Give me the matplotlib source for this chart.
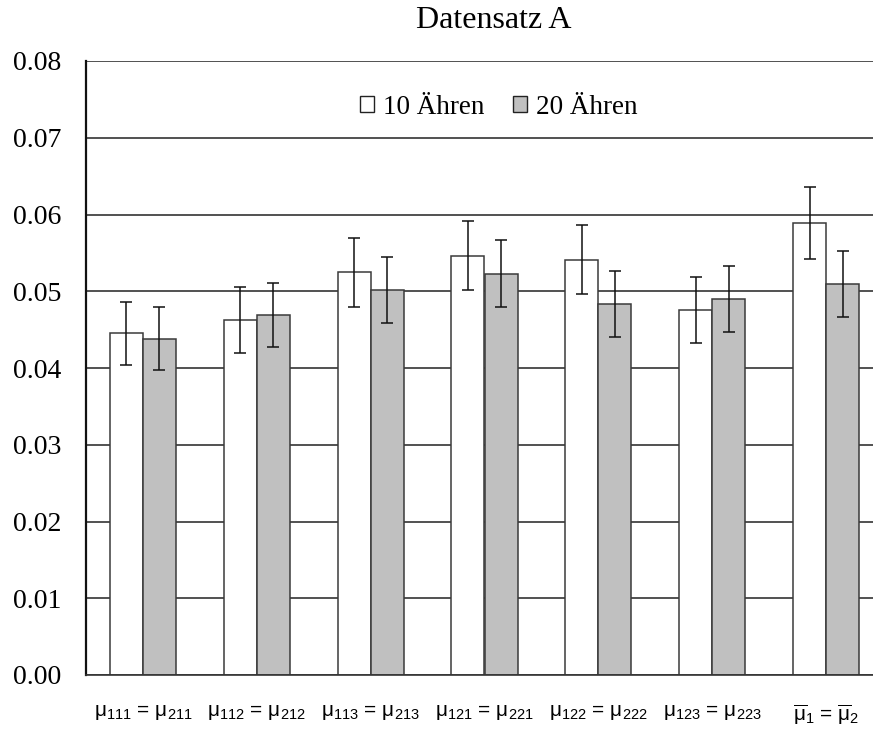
import matplotlib
matplotlib.use("Agg")
import matplotlib.pyplot as plt
import numpy as np
from matplotlib.patches import Patch

# Data
categories = [
    r"$\mathrm{μ_{111}}$ = $\mathrm{μ_{211}}$",
    r"$\mathrm{μ_{112}}$ = $\mathrm{μ_{212}}$",
    r"$\mathrm{μ_{113}}$ = $\mathrm{μ_{213}}$",
    r"$\mathrm{μ_{121}}$ = $\mathrm{μ_{221}}$",
    r"$\mathrm{μ_{122}}$ = $\mathrm{μ_{222}}$",
    r"$\mathrm{μ_{123}}$ = $\mathrm{μ_{223}}$",
    r"$\mathrm{\overline{μ}_{1}}$ = $\mathrm{\overline{μ}_{2}}$",
]
series_names = ["10 Ähren", "20 Ähren"]
values_10 = [0.0445, 0.0462, 0.0525, 0.0546, 0.0541, 0.0476, 0.0589]
values_20 = [0.0438, 0.0469, 0.0502, 0.0523, 0.0483, 0.0490, 0.0509]
err_10 = [0.0041, 0.0043, 0.0045, 0.0045, 0.0045, 0.0043, 0.0047]
err_20 = [0.0041, 0.0042, 0.0043, 0.0044, 0.0043, 0.0043, 0.0043]
yticks = [0.00, 0.01, 0.02, 0.03, 0.04, 0.05, 0.06, 0.07, 0.08]
title = "Datensatz A"

plt.rcParams["mathtext.fontset"] = "custom"
plt.rcParams["mathtext.rm"] = "Liberation Sans"
plt.rcParams["mathtext.it"] = "Liberation Sans:italic"
plt.rcParams["mathtext.bf"] = "Liberation Sans:bold"

W, H = 873, 729
fig = plt.figure(figsize=(W / 100, H / 100), dpi=100)
ax = fig.add_axes([86 / W, (H - 675) / H, (883 - 86) / W, (675 - 61) / H])

x = np.arange(len(categories))
bw = 0.29
edge = "#3a3a3a"
ax.bar(x - bw / 2, values_10, bw, color="white", edgecolor=edge, linewidth=1.1, zorder=3)
ax.bar(x + bw / 2, values_20, bw, color="#c0c0c0", edgecolor=edge, linewidth=1.1, zorder=3)
ax.errorbar(x - bw / 2, values_10, yerr=err_10, fmt="none", ecolor="#111111",
            elinewidth=1.1, capsize=4.5, capthick=1.1, zorder=4)
ax.errorbar(x + bw / 2, values_20, yerr=err_20, fmt="none", ecolor="#111111",
            elinewidth=1.1, capsize=4.5, capthick=1.1, zorder=4)

ax.set_xlim(-0.5, len(categories) - 0.5)
ax.set_ylim(0, 0.08)
ax.set_yticks(yticks)
ax.set_yticklabels([f"{v:.2f}" for v in yticks], fontfamily="Liberation Serif", fontsize=20)
ax.set_xticks(x)
ax.set_xticklabels(categories, fontsize=15, fontfamily="Liberation Sans")
ax.tick_params(axis="y", length=0, pad=18)
ax.tick_params(axis="x", length=0, pad=20)

ax.grid(axis="y", color="#222222", linewidth=1.1, zorder=0)
ax.set_axisbelow(True)
for s in ["top", "right"]:
    ax.spines[s].set_visible(False)
ax.spines["left"].set_color("#111111")
ax.spines["left"].set_linewidth(1.6)
ax.spines["bottom"].set_color("#333333")
ax.spines["bottom"].set_linewidth(1.2)
ax.spines["left"].set_zorder(5)
ax.spines["bottom"].set_zorder(5)

fig.text(493.5 / W, 1 - 21 / H, title, ha="center", va="center",
         fontfamily="Liberation Serif", fontsize=23)

handles = [Patch(facecolor="white", edgecolor="#222222", linewidth=1.0),
           Patch(facecolor="#c0c0c0", edgecolor="#222222", linewidth=1.0)]
ax.legend(handles, series_names, loc="center", bbox_to_anchor=(499 / W, 1 - 107 / H),
          bbox_transform=fig.transFigure, ncol=2, frameon=False,
          prop={"family": "Liberation Serif", "size": 19.5},
          handlelength=0.5, handleheight=0.5, handletextpad=0.35, columnspacing=1.05)

fig.savefig("out.png", dpi=100)
